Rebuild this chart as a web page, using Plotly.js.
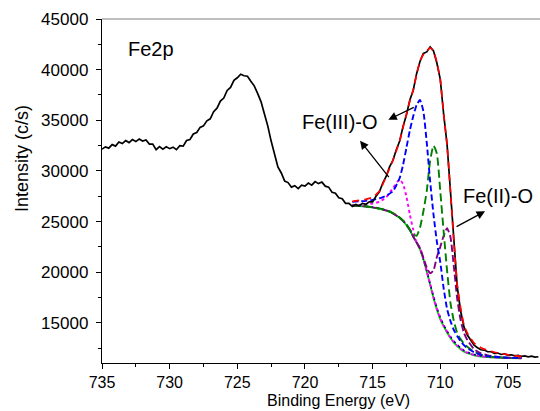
<!DOCTYPE html>
<html>
<head>
<meta charset="utf-8">
<script src="https://cdn.plot.ly/plotly-3.0.1.min.js"></script>
<style>html,body{margin:0;padding:0;background:#fff;}#chart{width:540px;height:411px;}</style>
</head>
<body>
<div id="chart"></div>
<script>
// Measured spectrum (binding energy, eV)
const energy = [735,734.75,734.5,734.25,734,733.75,733.5,733.25,733,732.75,732.5,732.25,732,731.75,731.5,731.25,731,730.75,730.5,730.25,730,729.75,729.5,729.25,729,728.75,728.5,728.25,728,727.75,727.5,727.25,727,726.75,726.5,726.25,726,725.75,725.5,725.25,725,724.75,724.5,724.25,724,723.75,723.5,723.25,723,722.75,722.5,722.25,722,721.75,721.5,721.25,721,720.75,720.5,720.25,720,719.75,719.5,719.25,719,718.75,718.5,718.25,718,717.75,717.5,717.25,717,716.75,716.5,716.25,716,715.75,715.5,715.25,715,714.75,714.5,714.25,714,713.75,713.5,713.25,713,712.75,712.5,712.25,712,711.75,711.5,711.25,711,710.75,710.5,710.25,710,709.75,709.5,709.25,709,708.75,708.5,708.25,708,707.75,707.5,707.25,707,706.75,706.5,706.25,706,705.75,705.5,705.25,705,704.75,704.5,704.25,704,703.75,703.5,703.25,703,702.75];
const intensity = [32150,32380,32250,32600,32450,32850,32700,33000,32800,33100,32900,33150,32950,33050,32650,32650,32100,32400,32150,32380,32200,32350,32100,32500,32450,33000,33100,33650,33800,34300,34450,34950,35150,35850,36200,36900,37200,37950,38250,38950,39200,39550,39400,39350,38850,38400,37650,36850,35650,34450,32950,31750,30400,29800,29000,28850,28400,28550,28250,28600,28500,28800,28600,28950,28750,28900,28500,28400,27900,27800,27350,27250,26800,26800,26500,26700,26550,26800,26700,26950,26950,27500,27950,28800,29450,30400,31050,32100,32950,34400,35550,37000,37950,39600,40800,41600,41750,42250,41850,40650,39050,35600,32650,28050,22900,18600,16200,14600,13800,13300,12800,12550,12350,12320,12150,12150,12000,12020,11880,11930,11820,11850,11740,11790,11690,11740,11650,11710,11620,11660];

// Fitted components
const fitEnergy = [716.5,716,715.5,715,714.5,714,713.5,713,712.75,712.5,712.25,712,711.75,711.5,711.25,711,710.75,710.5,710.25,710,709.75,709.5,709.25,709,708.75,708.5,708.25,708,707.5,707,706.5,706,705,704];
const envelope   = [27000,27100,27200,27400,28000,29450,31050,32950,34300,35600,36900,38000,39500,40850,41500,41850,42150,41850,40700,39000,35600,32600,28000,23100,18800,16500,14800,14000,13000,12550,12300,12100,11850,11700];
const background = [26550,26530,26470,26380,26250,26080,25800,25350,25050,24650,24150,23500,22900,22250,21250,20050,18750,17450,16300,15350,14650,14050,13500,13050,12700,12400,12150,12000,11800,11680,11620,11580,11530,11500];
const bgDotted   = [26600,26580,26520,26430,26300,26130,25850,25400,25100,24700,24200,23560,22960,22320,21330,20150,18870,17600,16480,15550,14800,14200,13650,13200,12850,12530,12270,12100,11880,11740,11660,11610,11550,11510];
const peakBlue   = [26950,27000,27050,27150,27300,27550,28000,29300,30600,32300,34000,35400,36500,37000,35900,32800,29000,25700,23000,21000,18400,16400,15200,14300,13700,13200,12800,12500,12100,11850,11720,11650,11560,11520];
const peakGreen  = [26600,26580,26520,26430,26300,26130,25850,25400,25100,24700,24250,23750,23600,24400,26000,28000,31000,32500,31700,28000,24000,20200,17000,15200,14000,13400,12950,12650,12150,11850,11700,11620,11550,11510];
const peakPurple = [26570,26550,26490,26400,26270,26100,25820,25370,25070,24670,24170,23530,22950,22350,21450,20450,19900,20200,21500,22500,23600,24350,23500,20600,17400,15300,14000,13300,12400,12000,11800,11680,11570,11520];
const peakMagenta= [26620,26650,26700,26780,26950,27400,28300,29150,28700,27450,25700,24200,22900,22400,21350,20100,18850,17500,16350,15400,14700,14100,13550,13100,12750,12450,12200,12050,11830,11700,11630,11590,11540,11505];

const xTicks = [735,730,725,720,715,710,705];
const yTicks = [15000,20000,25000,30000,35000,40000,45000];

const FONT = 'Arial, "Liberation Sans", sans-serif';

function fit(y, color, dash, width) {
  return {x: fitEnergy, y: y, type: 'scatter', mode: 'lines',
    line: {color: color, dash: dash, width: width || 1.6, shape: 'spline', smoothing: 0.5},
    hoverinfo: 'skip', showlegend: false};
}

const traces = [
  fit(background, '#00dd00', 'solid', 1.8),
  fit(bgDotted, '#000080', 'dot', 1.6),
  fit(peakMagenta, '#ff00ff', 'dot', 1.9),
  fit(peakPurple, '#800080', '7px,3px', 1.9),
  fit(peakGreen, '#008000', '8px,4px', 1.9),
  fit(peakBlue, '#0000ff', '6px,3px', 1.9),
  {x: energy, y: intensity, type: 'scatter', mode: 'lines',
   line: {color: '#000000', width: 1.7}, showlegend: false},
  fit(envelope, '#ff0000', '7px,5px', 1.7)
];

const layout = {
  width: 540, height: 411,
  margin: {l: 102, r: 0, t: 19, b: 48, pad: 0},
  paper_bgcolor: '#ffffff', plot_bgcolor: '#ffffff',
  showlegend: false,
  font: {family: FONT, color: '#000'},
  xaxis: {
    range: [735, 702.63], autorange: false,
    tickmode: 'array', tickvals: xTicks, ticktext: xTicks.map(String),
    ticks: 'outside', ticklen: 5, tickwidth: 1, tickcolor: '#000',
    minor: {dtick: 2.5, tick0: 0, ticks: 'outside', ticklen: 3, tickcolor: '#000', showgrid: false},
    showline: true, linecolor: '#000', linewidth: 1.2,
    showgrid: false, zeroline: false,
    ticklabelstandoff: 0,
    tickfont: {family: FONT, size: 16, color: '#000'}
  },
  yaxis: {
    range: [11040, 45000], autorange: false,
    tickmode: 'array', tickvals: yTicks, ticktext: yTicks.map(String),
    ticks: 'outside', ticklen: 5, tickwidth: 1, tickcolor: '#000',
    minor: {dtick: 2500, tick0: 0, ticks: 'outside', ticklen: 3, tickcolor: '#000', showgrid: false},
    showline: true, linecolor: '#000', linewidth: 1.2,
    showgrid: false, zeroline: false,
    ticklabelstandoff: 4,
    tickfont: {family: FONT, size: 17, color: '#000'}
  },
  shapes: [
    {type: 'line', xref: 'paper', yref: 'paper', x0: 0, x1: 1, y0: 1, y1: 1,
     line: {color: '#808080', width: 1}}
  ],
  annotations: [
    {text: 'Binding Energy (eV)', xref: 'paper', yref: 'paper', x: 0.539, y: -0.108,
     xanchor: 'center', yanchor: 'middle', showarrow: false, font: {family: FONT, size: 16, color: '#000'}},
    {text: 'Intensity (c/s)', xref: 'paper', yref: 'paper', x: -0.184, y: 0.594, textangle: -90,
     xanchor: 'center', yanchor: 'middle', showarrow: false, font: {family: FONT, size: 18, color: '#000'}},
    {text: 'Fe2p', xref: 'x', yref: 'y', x: 731.38, y: 42040,
     xanchor: 'center', yanchor: 'middle', showarrow: false, font: {family: FONT, size: 20, color: '#000'}},
    {text: 'Fe(III)-O', xref: 'x', yref: 'y', x: 717.41, y: 34860,
     xanchor: 'center', yanchor: 'middle', showarrow: false, font: {family: FONT, size: 20, color: '#000'}},
    {text: 'Fe(II)-O', xref: 'x', yref: 'y', x: 705.71, y: 27510,
     xanchor: 'center', yanchor: 'middle', showarrow: false, font: {family: FONT, size: 20, color: '#000'}},
    {text: '', xref: 'x', yref: 'y', x: 713.84, y: 35060, ax: 27, ay: -13,
     showarrow: true, arrowhead: 2, arrowsize: 1.3, arrowwidth: 1.3, arrowcolor: '#000', standoff: 0},
    {text: '', xref: 'x', yref: 'y', x: 715.93, y: 32990, ax: 30, ay: 38,
     showarrow: true, arrowhead: 2, arrowsize: 1.3, arrowwidth: 1.3, arrowcolor: '#000', standoff: 0},
    {text: '', xref: 'x', yref: 'y', x: 706.69, y: 26010, ax: -30, ay: 16,
     showarrow: true, arrowhead: 2, arrowsize: 1.3, arrowwidth: 1.3, arrowcolor: '#000', standoff: 0}
  ]
};

Plotly.newPlot('chart', traces, layout, {staticPlot: true, displayModeBar: false});
</script>
</body>
</html>
